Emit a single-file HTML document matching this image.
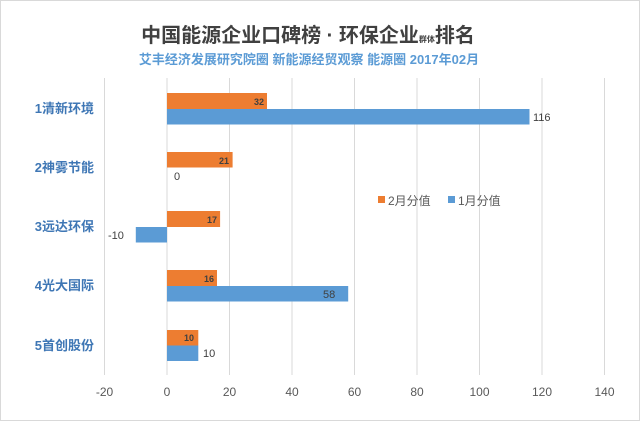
<!DOCTYPE html>
<html><head><meta charset="utf-8"><style>
html,body{margin:0;padding:0;background:#fff}
svg{display:block}
text{font-family:"Liberation Sans","Noto Sans CJK SC",sans-serif}
</style></head><body>
<svg width="640" height="421" viewBox="0 0 640 421" xmlns="http://www.w3.org/2000/svg">
<rect x="0.5" y="0.5" width="639" height="420" fill="#fff" stroke="#d9d9d9"/>
<text x="308" y="42" text-anchor="middle" font-size="20" font-weight="bold" fill="#404040">中国能源企业口碑榜 · 环保企业<tspan font-size="8">群体</tspan>排名</text>
<text x="309" y="64" text-anchor="middle" font-size="13" font-weight="bold" fill="#5b9bd5">艾丰经济发展研究院圈 新能源经贸观察 能源圈  2017年02月</text>
<g stroke="#d9d9d9" stroke-width="1">
<line x1="104.5" y1="78" x2="104.5" y2="375"/>
<line x1="167" y1="78" x2="167" y2="375"/>
<line x1="229.5" y1="78" x2="229.5" y2="375"/>
<line x1="292" y1="78" x2="292" y2="375"/>
<line x1="354.5" y1="78" x2="354.5" y2="375"/>
<line x1="417" y1="78" x2="417" y2="375"/>
<line x1="479.5" y1="78" x2="479.5" y2="375"/>
<line x1="542" y1="78" x2="542" y2="375"/>
<line x1="604.5" y1="78" x2="604.5" y2="375"/>
</g>
<g font-size="12" fill="#595959" text-anchor="middle">
<text x="104.5" y="396">-20</text><text x="167" y="396">0</text><text x="229.5" y="396">20</text>
<text x="292" y="396">40</text><text x="354.5" y="396">60</text><text x="417" y="396">80</text>
<text x="479.5" y="396">100</text><text x="542" y="396">120</text><text x="604.5" y="396">140</text>
</g>
<g fill="#ed7d31">
<rect x="167" y="93" width="100" height="16"/>
<rect x="167" y="152" width="65.6" height="15.5"/>
<rect x="167" y="211" width="53.1" height="16"/>
<rect x="167" y="270" width="50" height="16"/>
<rect x="167" y="330" width="31.3" height="15.5"/>
</g>
<g fill="#5b9bd5">
<rect x="167" y="109" width="362.5" height="15.5"/>
<rect x="135.8" y="227" width="31.2" height="15.5"/>
<rect x="167" y="286" width="181.2" height="15.5"/>
<rect x="167" y="345.5" width="31.3" height="15.5"/>
</g>
<g font-size="9" font-weight="bold" fill="#404040" text-anchor="end">
<text x="264" y="105">32</text><text x="229" y="164">21</text><text x="217" y="223">17</text>
<text x="214" y="282">16</text><text x="194" y="341">10</text>
</g>
<g font-size="11" fill="#404040">
<text x="533" y="121">116</text><text x="174" y="180">0</text>
<text x="108" y="239">-10</text><text x="323" y="298">58</text><text x="203" y="357">10</text>
</g>
<g font-size="13" font-weight="bold" fill="#3f77b5" text-anchor="end">
<text x="94" y="113">1清新环境</text><text x="94" y="172">2神雾节能</text>
<text x="94" y="231">3远达环保</text><text x="94" y="290">4光大国际</text><text x="94" y="350">5首创股份</text>
</g>
<rect x="378" y="196" width="7" height="7" fill="#ed7d31"/>
<text x="388" y="205" font-size="12" fill="#595959">2月分值</text>
<rect x="448" y="196" width="7" height="7" fill="#5b9bd5"/>
<text x="458" y="205" font-size="12" fill="#595959">1月分值</text>
</svg>
</body></html>
